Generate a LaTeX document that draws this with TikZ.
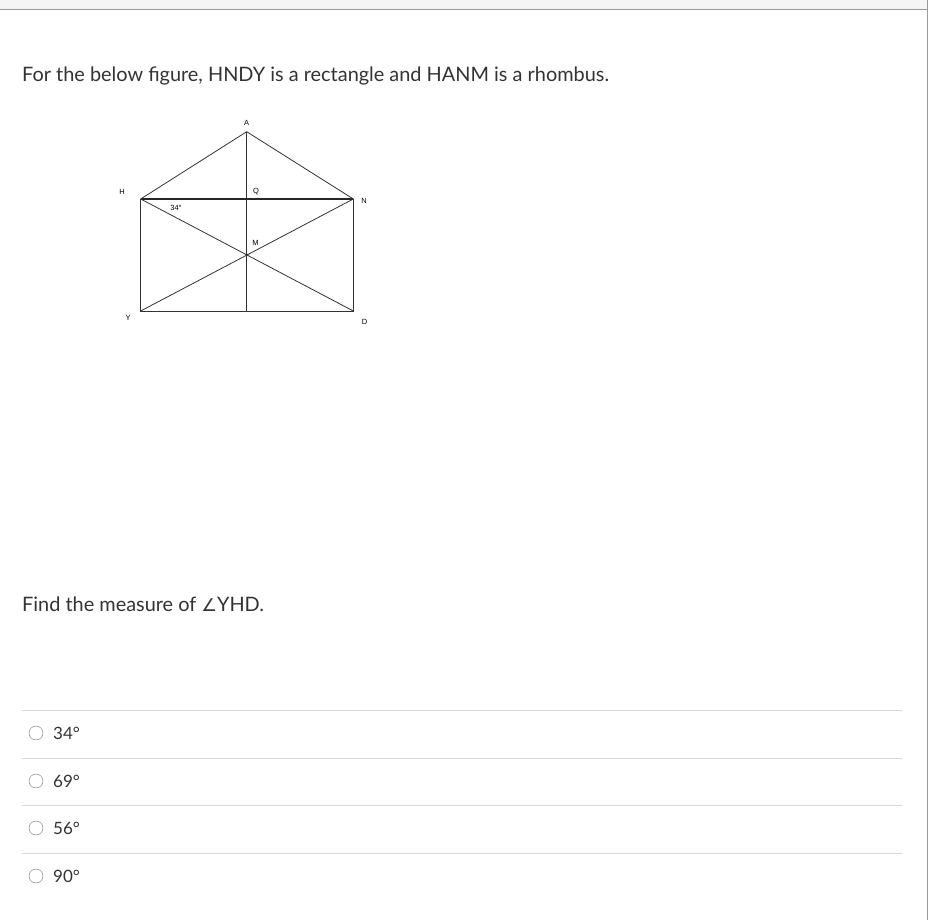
\documentclass[tikz,border=0pt]{standalone}
\usepackage{fontspec}
\setmainfont{Lato}
\newfontfamily\figfont{Liberation Sans}
\newfontfamily\symfont{DejaVu Sans}
\usetikzlibrary{positioning}

\begin{document}
\begin{tikzpicture}[x=1pt, y=-1pt,
  textline/.style={anchor=base west, inner sep=0pt, text=black!80, font=\fontsize{19.9}{23}\selectfont},
  choice/.style={anchor=base west, inner sep=0pt, text=black!80, font=\fontsize{17}{20}\selectfont},
  radio/.style={circle, draw=black!55, thin, minimum size=14pt, inner sep=0pt},
  ptlabel/.style={inner sep=0pt, font=\figfont\fontsize{7.5}{8}\selectfont},
  edge/.style={draw=black!80, line width=0.8pt},
  rule/.style={draw=black!15, line width=0.8pt}]

%Frame
\useasboundingbox (0,0) rectangle (930,920);
\fill[black!4] (0,0) rectangle (927,9);
\draw[draw=black!40, line width=1pt] (0,9.5) -- (927,9.5);
\draw[draw=black!40, line width=1.5pt] (927.5,0) -- (927.5,920);

%Texts
\node[textline] (title) at (22,82) {For the below figure, HNDY is a rectangle and HANM is a rhombus.};
\node[textline] (question) at (22,611) {Find the measure of {\symfont\fontsize{17.5}{20}\selectfont ∠}YHD.};

%Points
\coordinate (A) at (246.7,131.7);
\coordinate (H) at (140.7,199);
\coordinate (Q) at (246.7,199);
\coordinate (N) at (353.3,199);
\coordinate (M) at (246.7,254.5);
\coordinate (Y) at (140.7,311);
\coordinate (D) at (353.3,311);
\coordinate (B) at (246.7,311);

%Labels
\node[ptlabel] (labelA) at (246.5,122.5) {A};
\node[ptlabel] (labelH) at (122,192) {H};
\node[ptlabel] (labelQ) at (256,191.5) {Q};
\node[ptlabel] (labelN) at (364,201) {N};
\node[ptlabel] (labelM) at (255.5,242.5) {M};
\node[ptlabel] (labelY) at (128,318) {Y};
\node[ptlabel] (labelD) at (364.5,321.5) {D};
\node[ptlabel] (angle) at (176,208) {34°};

%line
\draw[edge] (H) -- (A) -- (N);
\draw[edge] (H) -- (Y) -- (D) -- (N);
\draw[edge] (H) -- (D);
\draw[edge] (Y) -- (N);
\draw[edge] (A) -- (B);
\draw[draw=black!85, line width=1.6pt] (H) -- (N);
\fill[black!85] (M) circle (1.2pt);
\fill[black!85] (Q) circle (1pt);

%Choices
\draw[rule] (22,710.5) -- (902,710.5);
\draw[rule] (22,758.5) -- (902,758.5);
\draw[rule] (22,805.5) -- (902,805.5);
\draw[rule] (22,853.5) -- (902,853.5);

\node[radio] (radio1) at (36,733) {};
\node[radio] (radio2) at (36,781) {};
\node[radio] (radio3) at (36,828) {};
\node[radio] (radio4) at (36,876) {};
\node[choice] (choice1) at (53,739) {34°};
\node[choice] (choice2) at (53,787) {69°};
\node[choice] (choice3) at (53,834) {56°};
\node[choice] (choice4) at (53,882) {90°};

\end{tikzpicture}
\end{document}
